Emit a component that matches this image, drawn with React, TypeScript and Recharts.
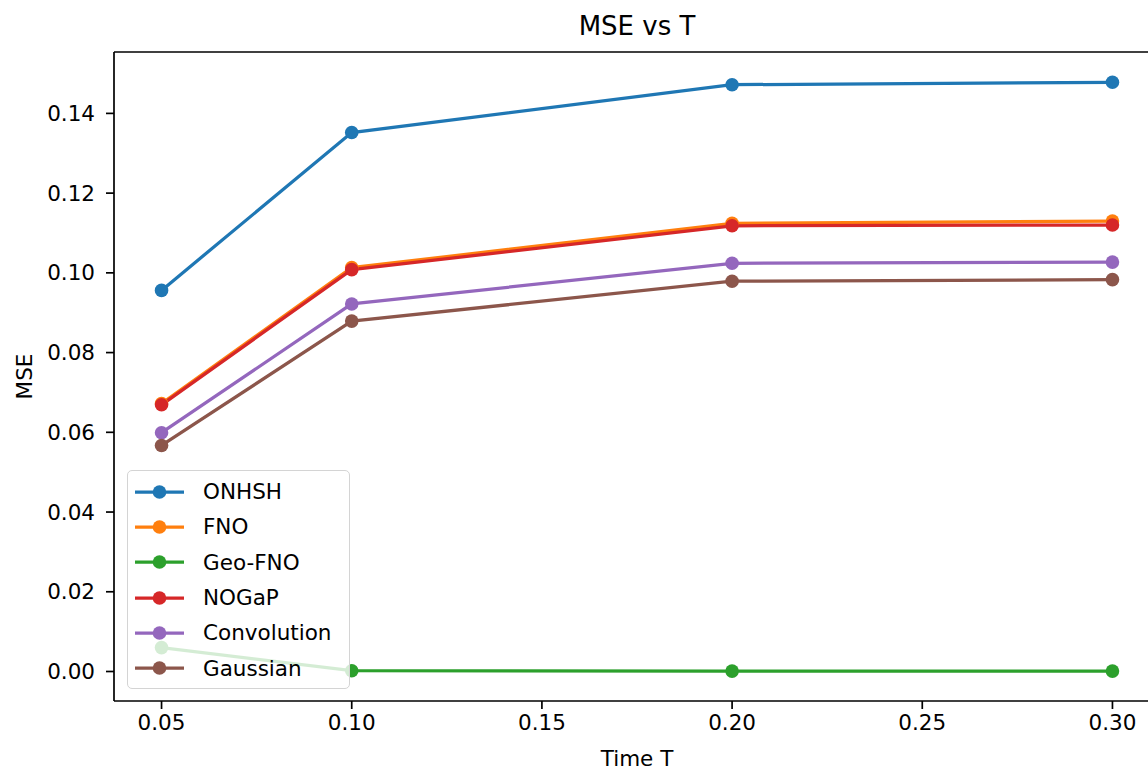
import React from "react";
import { LineChart, Line, XAxis, YAxis, ReferenceLine } from "recharts";

// T values on the x axis
const times = [0.05, 0.1, 0.2, 0.3];

// MSE per method
const onhsh = [0.0956, 0.1352, 0.1472, 0.1478];
const fno = [0.0672, 0.1013, 0.1124, 0.113];
const geoFno = [0.006, 0.0002, 0.0001, 0.0001];
const nogap = [0.0669, 0.1008, 0.1118, 0.112];
const convolution = [0.0599, 0.0922, 0.1024, 0.1027];
const gaussian = [0.0567, 0.0879, 0.0979, 0.0983];

const xTicks = [0.05, 0.1, 0.15, 0.2, 0.25, 0.3];
const yTicks = [0, 0.02, 0.04, 0.06, 0.08, 0.1, 0.12, 0.14];

const series = [
  { key: "onhsh", name: "ONHSH", color: "#1f77b4", values: onhsh },
  { key: "fno", name: "FNO", color: "#ff7f0e", values: fno },
  { key: "geoFno", name: "Geo-FNO", color: "#2ca02c", values: geoFno },
  { key: "nogap", name: "NOGaP", color: "#d62728", values: nogap },
  { key: "convolution", name: "Convolution", color: "#9467bd", values: convolution },
  { key: "gaussian", name: "Gaussian", color: "#8c564b", values: gaussian },
];

const data = times.map((t, i) => {
  const row: any = { t };
  series.forEach((s) => (row[s.key] = s.values[i]));
  return row;
});

const FONT = "'DejaVu Sans', sans-serif";
const Y_MIN = -0.0074;
const Y_MAX = 0.1554;

const tickStyle = { fill: "#000", fontSize: 21.5, fontFamily: FONT };

// legend box drawn over the plot, semi-transparent like matplotlib's
const LegendBox = () => (
  <div
    style={{
      position: "absolute",
      left: 127,
      top: 470,
      width: 223,
      height: 219,
      boxSizing: "border-box",
      border: "1.5px solid #d4d4d4",
      borderRadius: 5,
      background: "rgba(255,255,255,0.8)",
      paddingTop: 3,
    }}
  >
    {series.map((s) => (
      <div key={s.key} style={{ height: 35.3, display: "flex", alignItems: "center" }}>
        <svg width={60} height={20} style={{ marginLeft: 6 }}>
          <line x1={1} y1={10} x2={50} y2={10} stroke={s.color} strokeWidth={3.25} />
          <circle cx={25.5} cy={10} r={6.8} fill={s.color} />
        </svg>
        <span style={{ fontFamily: FONT, fontSize: 21.5, color: "#000", marginLeft: 9 }}>{s.name}</span>
      </div>
    ))}
  </div>
);

export default function App() {
  return (
    <div
      style={{
        position: "absolute",
        left: 0,
        top: 0,
        width: 1148,
        height: 771,
        overflow: "hidden",
        background: "#fff",
      }}
    >
      <div
        style={{
          position: "absolute",
          left: 0,
          width: 1274,
          top: 11,
          textAlign: "center",
          fontFamily: FONT,
          fontSize: 26,
          color: "#000",
        }}
      >
        MSE vs T
      </div>
      <LineChart
        width={1200}
        height={771}
        data={data}
        margin={{ top: 52, right: 40, bottom: 0, left: 0 }}
        style={{ fontFamily: FONT }}
      >
        <XAxis
          dataKey="t"
          type="number"
          domain={[0.0375, 0.3125]}
          ticks={xTicks}
          tickFormatter={(v: number) => v.toFixed(2)}
          height={70}
          tick={tickStyle}
          tickSize={8}
          tickMargin={6}
          axisLine={{ stroke: "#000", strokeWidth: 1.7 }}
          tickLine={{ stroke: "#000", strokeWidth: 1.7 }}
          allowDataOverflow
          label={{ value: "Time T", position: "insideBottom", offset: 5, fill: "#000", fontSize: 21.5, fontFamily: FONT }}
        />
        <YAxis
          type="number"
          domain={[Y_MIN, Y_MAX]}
          ticks={yTicks}
          tickFormatter={(v: number) => v.toFixed(2)}
          width={114}
          tick={tickStyle}
          tickSize={8}
          tickMargin={11}
          axisLine={{ stroke: "#000", strokeWidth: 1.7 }}
          tickLine={{ stroke: "#000", strokeWidth: 1.7 }}
          allowDataOverflow
          label={{
            value: "MSE",
            angle: -90,
            position: "insideLeft",
            offset: 24,
            fill: "#000",
            fontSize: 21.5,
            fontFamily: FONT,
            style: { textAnchor: "middle" },
          }}
        />
        <ReferenceLine y={Y_MAX} stroke="#000" strokeWidth={1.7} />
        {series.map((s) => (
          <Line
            key={s.key}
            dataKey={s.key}
            name={s.name}
            type="linear"
            stroke={s.color}
            strokeWidth={3.25}
            dot={{ r: 6.8, fill: s.color, stroke: s.color, strokeWidth: 0 }}
            activeDot={false}
            isAnimationActive={false}
          />
        ))}
      </LineChart>
      <LegendBox />
    </div>
  );
}
